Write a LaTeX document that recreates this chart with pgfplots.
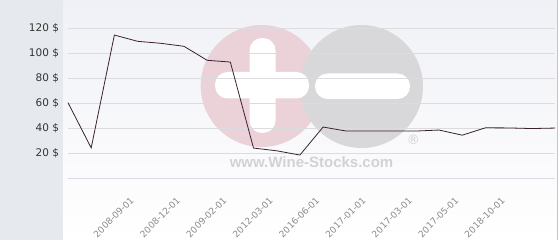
\documentclass[border=0pt]{standalone}
\usepackage{fontspec}
\setmainfont{DejaVu Sans}
\newfontfamily\wmfont{Liberation Sans}
\usepackage{pgfplots}
\pgfplotsset{compat=1.18}
\definecolor{panel}{HTML}{E6EAEE}
\definecolor{plottop}{HTML}{F0F1F6}
\definecolor{rightline}{HTML}{C4C4C8}
\definecolor{wmpink}{HTML}{EAD2D8}
\definecolor{wmgray}{HTML}{D8D8DA}
\definecolor{wmtext}{HTML}{D2D2D4}
\definecolor{gridc}{HTML}{DCDCE0}
\definecolor{linec}{HTML}{3B2130}
\definecolor{ylab}{HTML}{333333}
\definecolor{xlab}{HTML}{8A8A8A}
\pgfplotstableread{
x y
0 60.5
1 24.3
2 114.6
3 109.6
4 108.0
5 105.6
6 94.4
7 93.0
8 24.2
9 22.0
10 18.6
11 41.0
12 37.8
13 37.8
14 37.8
15 37.8
16 38.6
17 34.5
18 40.4
19 40.3
20 39.8
21 40.2
}\pricedata
\begin{document}
\begin{tikzpicture}
\path[use as bounding box] (0bp,0bp) rectangle (560bp,240bp);
\fill[panel] (0bp,0bp) rectangle (63bp,240bp);
\shade[top color=plottop, bottom color=white] (63bp,0bp) rectangle (557bp,240bp);
\draw[rightline, line width=1bp] (557.5bp,0bp) -- (557.5bp,240bp);
\fill[white] (558bp,0bp) rectangle (560bp,240bp);
% watermark
\fill[wmpink] (261.7bp,154bp) circle (61bp);
\fill[wmgray] (361.5bp,153.5bp) circle (61.5bp);
\fill[white, rounded corners=12.5bp] (249.5bp,107bp) rectangle (275.5bp,202bp);
\fill[white, rounded corners=12.5bp] (215bp,141.5bp) rectangle (309bp,168bp);
\fill[white, rounded corners=12.5bp] (315bp,141bp) rectangle (410bp,166.5bp);
\node[text=wmtext, font=\wmfont\bfseries\fontsize{15bp}{15bp}\selectfont, inner sep=0pt] at (311.5bp,78.3bp) {www.Wine-Stocks.com};
\node[text=wmtext, font=\fontsize{13bp}{13bp}\selectfont, inner sep=0pt] at (413.3bp,100bp) {®};
\begin{axis}[
  at={(68bp,61.7bp)}, anchor=south west,
  scale only axis, width=487bp, height=175bp,
  xmin=0, xmax=21, ymin=0, ymax=140,
  axis line style={draw=none},
  major tick length=0pt,
  ytick={0,20,40,60,80,100,120},
  yticklabels={{},{20 \$},{40 \$},{60 \$},{80 \$},{100 \$},{120 \$}},
  ymajorgrids, grid style={gridc, line width=0.9bp},
  yticklabel style={text=ylab, font=\fontsize{10.5bp}{12bp}\selectfont, anchor=east, xshift=-5.5bp},
  xtick={3,5,7,9,11,13,15,17,19},
  xticklabels={2008-09-01,2008-12-01,2009-02-01,2012-03-01,2016-06-01,2017-01-01,2017-03-01,2017-05-01,2018-10-01},
  xticklabel style={text=xlab, font=\fontsize{9bp}{10bp}\selectfont, xshift=-3bp, yshift=-18bp, rotate=45, anchor=east},
  clip=false,
]
\addplot[linec, line width=0.8bp, mark=none] table[x=x, y=y] {\pricedata};
\end{axis}
\end{tikzpicture}
\end{document}
